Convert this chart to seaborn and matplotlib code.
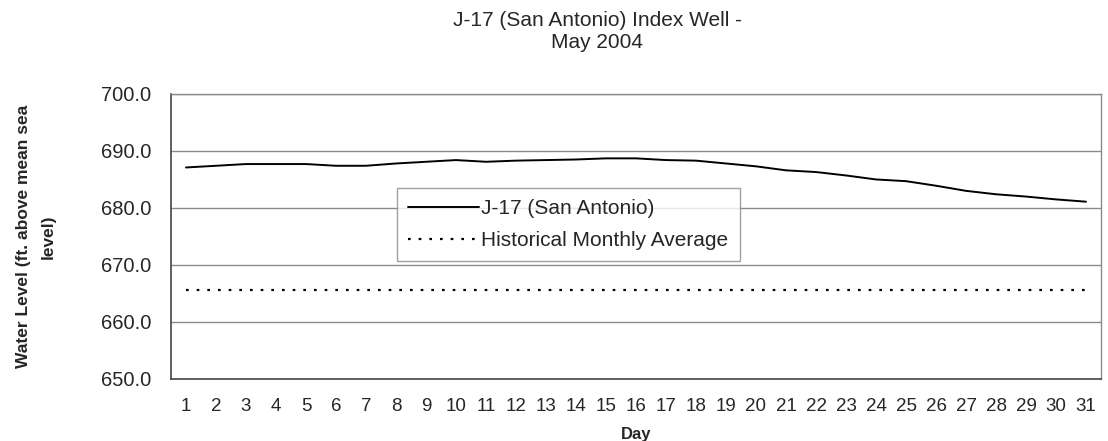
import matplotlib.pyplot as plt
import numpy as np
import pandas as pd
import seaborn as sns
from matplotlib.ticker import FixedLocator

days = list(range(1, 32))
j17_level = [687.1, 687.4, 687.7, 687.7, 687.7, 687.4, 687.4, 687.8, 688.1, 688.4,
             688.1, 688.3, 688.4, 688.5, 688.7, 688.7, 688.4, 688.3, 687.8, 687.3,
             686.6, 686.3, 685.7, 685.0, 684.7, 683.9, 683.0, 682.4, 682.0, 681.5,
             681.1]
hist_avg = [665.6] * 31
y_ticks = [650, 660, 670, 680, 690, 700]

sns.set_style("white")
plt.rcParams["font.family"] = ["Liberation Sans", "DejaVu Sans"]

df = pd.DataFrame({"Day": days, "J-17 (San Antonio)": j17_level,
                   "Historical Monthly Average": hist_avg})

fig = plt.figure(figsize=(11.08, 4.41), dpi=100)
ax = fig.add_axes([0.1543, 0.1406, 0.8394, 0.6464])

sns.lineplot(data=df, x="Day", y="J-17 (San Antonio)", ax=ax, color="black",
             linewidth=1.4, label="J-17 (San Antonio)")
sns.lineplot(data=df, x="Day", y="Historical Monthly Average", ax=ax, color="black",
             linewidth=1.6, dashes=False, label="Historical Monthly Average")
ax.lines[1].set_dashes([1.2, 3.6])

ax.set_xlim(0.5, 31.5)
ax.set_ylim(650, 700)
ax.set_yticks(y_ticks)
ax.set_yticklabels([f"{v:.1f}" for v in y_ticks], fontsize=14.5)
ax.set_xticks(days)
ax.set_xticklabels([str(d) for d in days], fontsize=13.5)
ax.xaxis.set_minor_locator(FixedLocator(np.arange(0.5, 32, 1)))
ax.tick_params(axis="x", which="major", length=0, pad=14)
ax.tick_params(axis="x", which="minor", length=4, color="#666666", direction="out")
ax.tick_params(axis="y", length=6, color="#666666", direction="out", pad=8)

ax.yaxis.grid(True, color="#8a8a8a", linewidth=1.0)
ax.set_axisbelow(True)
for side in ["top", "right"]:
    ax.spines[side].set_color("#8a8a8a")
    ax.spines[side].set_linewidth(1.0)
for side in ["left", "bottom"]:
    ax.spines[side].set_color("#444444")
    ax.spines[side].set_linewidth(1.2)

ax.set_xlabel("Day", fontsize=12, fontweight="bold", labelpad=8)
ax.set_ylabel("Water Level (ft. above mean sea\nlevel)", fontsize=12.5,
              fontweight="bold", labelpad=33, linespacing=1.8)

leg = ax.legend(loc="upper left", bbox_to_anchor=(0.243, 0.670), borderaxespad=0,
                fontsize=15, frameon=True, fancybox=False, handlelength=3.4,
                handletextpad=0.1, borderpad=0.55, labelspacing=0.6)
leg.get_frame().set_edgecolor("#8a8a8a")
leg.get_frame().set_linewidth(1.0)

fig.text(0.539, 0.975, "J-17 (San Antonio) Index Well -\nMay 2004", ha="center",
         va="top", fontsize=15, linespacing=1.2)

fig.savefig("out.png", dpi=100)
